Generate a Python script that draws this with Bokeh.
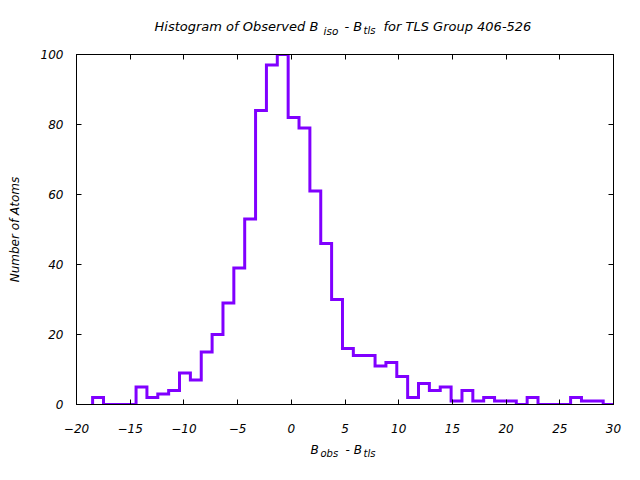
from bokeh.plotting import figure
from bokeh.layouts import column
from bokeh.models import Range1d, LinearAxis, FixedTicker, CustomJSTickFormatter
from bokeh.core.properties import value
from bokeh.embed import file_html
from bokeh.resources import INLINE

# ---- data ----
bin_start = -18.5
bin_width = 1.0115
counts = [2, 0, 0, 0, 5, 2, 3, 4, 9, 7, 15, 20, 29, 39, 53, 84, 97, 100, 82, 79,
          61, 46, 30, 16, 14, 14, 11, 12, 8, 2, 6, 4, 5, 1, 4, 1, 2, 1, 1, 0,
          2, 0, 0, 0, 2, 1, 1, 0]
x_ticks = [-20, -15, -10, -5, 0, 5, 10, 15, 20, 25, 30]
y_ticks = [0, 20, 40, 60, 80, 100]
title_parts = ["Histogram of Observed B", "iso", "- B", "tls", "for TLS Group 406-526"]
xlabel_parts = ["B", "obs", "- B", "tls"]
ylabel = "Number of Atoms"

# ---- step path from histogram ----
edges = [bin_start + i * bin_width for i in range(len(counts) + 1)]
xs = [edges[0]]
ys = [0]
for i, c in enumerate(counts):
    xs += [edges[i], edges[i + 1]]
    ys += [c, c]

FONT = "DejaVu Sans"
LINE = "#8000ff"
W = 624


def text_strip(top, bottom):
    """A blank figure whose data coordinates equal page pixels."""
    f = figure(width=W, height=bottom - top,
               x_range=Range1d(0, W), y_range=Range1d(bottom, top),
               output_backend="svg", toolbar_location=None,
               x_axis_location=None, y_axis_location=None,
               min_border=0, min_border_left=0, min_border_right=0,
               min_border_top=0, min_border_bottom=0, frame_align=False)
    f.outline_line_color = None
    f.xgrid.visible = False
    f.ygrid.visible = False
    f.background_fill_color = "white"
    f.border_fill_color = "white"
    return f


def put(f, txt, x, y, size):
    f.text(x=[x], y=[y], text=[txt], text_font=value(FONT),
           text_font_style="italic", text_font_size=value(size),
           text_color="black", text_baseline="alphabetic", text_align="left")


# ---- title strip (page y 0..40) ----
t = text_strip(0, 40)
put(t, title_parts[0], 154, 26, "13px")
put(t, title_parts[1], 323, 30, "10.5px")
put(t, title_parts[2], 344, 26, "13px")
put(t, title_parts[3], 363, 30, "10px")
put(t, title_parts[4], 383, 26, "13px")

# ---- main plot (page y 40..440), frame 76..613 x 54..404 ----
p = figure(width=W, height=400,
           x_range=Range1d(-20, 30), y_range=Range1d(0, 100),
           output_backend="svg", toolbar_location=None,
           min_border_left=76, min_border_right=W - 613,
           min_border_top=14, min_border_bottom=36, frame_align=False)
p.background_fill_color = "white"
p.border_fill_color = "white"
p.outline_line_color = "black"
p.outline_line_width = 1
p.xgrid.visible = False
p.ygrid.visible = False

p.line(xs, ys, line_color=LINE, line_width=3, line_join="miter")


def style_axis(ax, ticks, show_labels):
    ax.ticker = FixedTicker(ticks=ticks)
    ax.major_tick_in = 5
    ax.major_tick_out = 0
    ax.minor_tick_line_color = None
    ax.axis_line_color = "black"
    ax.major_tick_line_color = "black"
    ax.major_label_text_font = FONT
    ax.major_label_text_font_style = "italic"
    ax.major_label_text_font_size = "12px"
    ax.major_label_text_color = "black"
    if not show_labels:
        ax.formatter = CustomJSTickFormatter(code="return ''")
        ax.major_label_standoff = 0


style_axis(p.xaxis[0], x_ticks, True)
style_axis(p.yaxis[0], y_ticks, True)
p.xaxis[0].major_label_standoff = 19
p.yaxis[0].major_label_standoff = 13
p.yaxis[0].axis_label = ylabel
p.yaxis[0].axis_label_text_font = FONT
p.yaxis[0].axis_label_text_font_style = "italic"
p.yaxis[0].axis_label_text_font_size = "12px"
p.yaxis[0].axis_label_text_color = "black"
p.yaxis[0].axis_label_standoff = 16

top = LinearAxis()
right = LinearAxis()
style_axis(top, x_ticks, False)
style_axis(right, y_ticks, False)
p.add_layout(top, "above")
p.add_layout(right, "right")

# ---- x label strip (page y 440..464) ----
b = text_strip(440, 464)
put(b, xlabel_parts[0], 310, 449, "12px")
put(b, xlabel_parts[1], 320, 453, "10px")
put(b, xlabel_parts[2], 345, 449, "12px")
put(b, xlabel_parts[3], 363, 453, "10px")

layout = column(t, p, b, spacing=0)
open("out.html", "w").write(file_html(layout, INLINE))
